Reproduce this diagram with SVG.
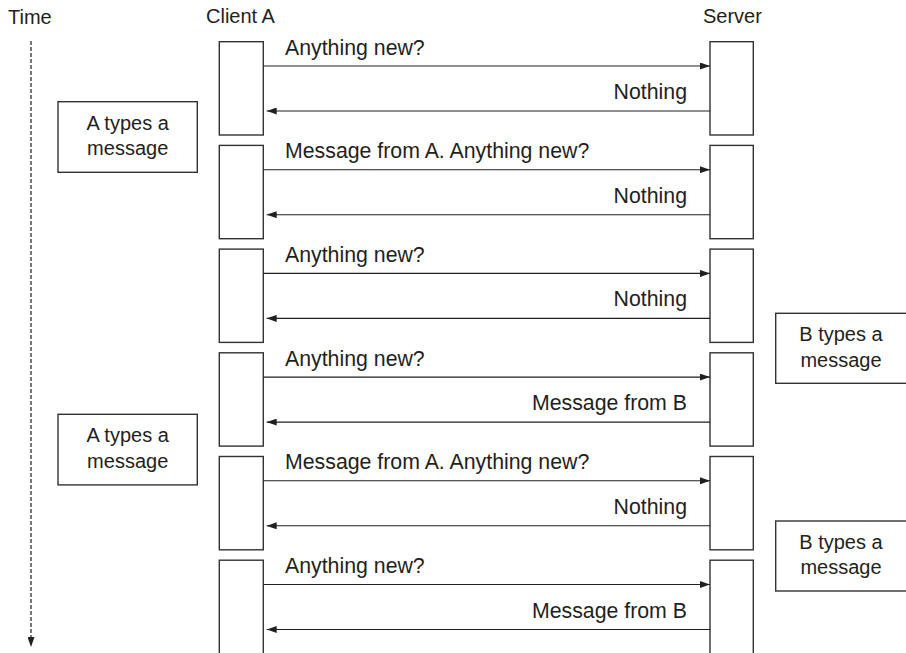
<svg xmlns="http://www.w3.org/2000/svg" width="906" height="653" viewBox="0 0 906 653">
<style>
text{font-family:"Liberation Sans",Arial,sans-serif;font-size:20px;fill:#231f20}
.lbl{font-size:21.3px}
.box{fill:#fff;stroke:#333;stroke-width:1.4}
.msg{stroke:#231f20;stroke-width:1.1;fill:none;marker-end:url(#ah)}
.r{text-anchor:end}
.c{text-anchor:middle}
</style>
<defs>
<marker id="ah" markerUnits="userSpaceOnUse" markerWidth="10" markerHeight="7" refX="10" refY="3.5" orient="auto">
<path d="M0,0 L10,3.5 L0,7 z" fill="#231f20"/>
</marker>
<marker id="ahd" markerUnits="userSpaceOnUse" markerWidth="7" markerHeight="10" refX="3.5" refY="10" orient="0">
<path d="M0,0 L7,0 L3.5,10 z" fill="#231f20"/>
</marker>
</defs>
<rect width="906" height="653" fill="#fff"/>
<g id="time">
<text x="8" y="24">Time</text>
<line x1="31" y1="41" x2="31" y2="647" stroke="#231f20" stroke-width="1.2" stroke-dasharray="4,2" marker-end="url(#ahd)"/>
</g>
<g id="clientA-label"><text x="206" y="23">Client A</text></g>
<g id="server-label"><text x="703" y="23">Server</text></g>
<g id="client-boxes">
<rect id="c1" class="box" x="219.3" y="41.7" width="44" height="93.3"/>
<rect id="c2" class="box" x="219.3" y="145.4" width="44" height="93.3"/>
<rect id="c3" class="box" x="219.3" y="249.1" width="44" height="93.3"/>
<rect id="c4" class="box" x="219.3" y="352.8" width="44" height="93.3"/>
<rect id="c5" class="box" x="219.3" y="456.5" width="44" height="93.3"/>
<rect id="c6" class="box" x="219.3" y="560.2" width="44" height="110"/>
</g>
<g id="server-boxes">
<rect id="s1" class="box" x="710" y="41.7" width="43.3" height="93.3"/>
<rect id="s2" class="box" x="710" y="145.4" width="43.3" height="93.3"/>
<rect id="s3" class="box" x="710" y="249.1" width="43.3" height="93.3"/>
<rect id="s4" class="box" x="710" y="352.8" width="43.3" height="93.3"/>
<rect id="s5" class="box" x="710" y="456.5" width="43.3" height="93.3"/>
<rect id="s6" class="box" x="710" y="560.2" width="43.3" height="110"/>
</g>
<g id="noteA1">
<rect class="box" x="58" y="101.7" width="139.3" height="70.6"/>
<text class="c" x="127.7" y="129.5">A types a</text>
<text class="c" x="127.7" y="155">message</text>
</g>
<g id="noteA2">
<rect class="box" x="58" y="414.3" width="139.3" height="70.6"/>
<text class="c" x="127.7" y="442">A types a</text>
<text class="c" x="127.7" y="467.5">message</text>
</g>
<g id="noteB1">
<rect class="box" x="775.7" y="313.3" width="135" height="70"/>
<text class="c" x="841" y="341">B types a</text>
<text class="c" x="841" y="366.5">message</text>
</g>
<g id="noteB2">
<rect class="box" x="775.7" y="521" width="135" height="70"/>
<text class="c" x="841" y="548.7">B types a</text>
<text class="c" x="841" y="574.2">message</text>
</g>
<g id="connectors">
<line class="msg" x1="263.3" y1="66" x2="710" y2="66"/>
<line class="msg" x1="710" y1="111" x2="266.7" y2="111"/>
<line class="msg" x1="263.3" y1="169.7" x2="710" y2="169.7"/>
<line class="msg" x1="710" y1="214.7" x2="266.7" y2="214.7"/>
<line class="msg" x1="263.3" y1="273.4" x2="710" y2="273.4"/>
<line class="msg" x1="710" y1="318.4" x2="266.7" y2="318.4"/>
<line class="msg" x1="263.3" y1="377.1" x2="710" y2="377.1"/>
<line class="msg" x1="710" y1="422.1" x2="266.7" y2="422.1"/>
<line class="msg" x1="263.3" y1="480.8" x2="710" y2="480.8"/>
<line class="msg" x1="710" y1="525.8" x2="266.7" y2="525.8"/>
<line class="msg" x1="263.3" y1="584.5" x2="710" y2="584.5"/>
<line class="msg" x1="710" y1="629.5" x2="266.7" y2="629.5"/>
<text class="lbl" x="285" y="54.5">Anything new?</text>
<text class="lbl r" x="687" y="99">Nothing</text>
<text class="lbl" x="285" y="158.2">Message from A. Anything new?</text>
<text class="lbl r" x="687" y="202.7">Nothing</text>
<text class="lbl" x="285" y="261.9">Anything new?</text>
<text class="lbl r" x="687" y="306.4">Nothing</text>
<text class="lbl" x="285" y="365.6">Anything new?</text>
<text class="lbl r" x="687" y="410.1">Message from B</text>
<text class="lbl" x="285" y="469.3">Message from A. Anything new?</text>
<text class="lbl r" x="687" y="513.8">Nothing</text>
<text class="lbl" x="285" y="573">Anything new?</text>
<text class="lbl r" x="687" y="617.5">Message from B</text>
</g>
</svg>
